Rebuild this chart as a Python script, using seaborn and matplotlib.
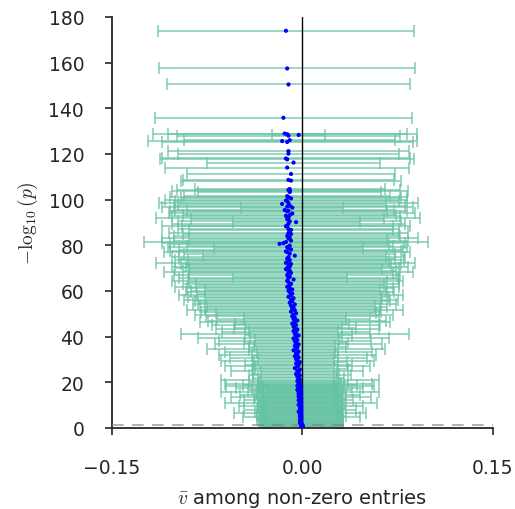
import matplotlib
matplotlib.use('Agg')
import matplotlib.pyplot as plt
import seaborn as sns
import numpy as np
import pandas as pd

# -log10(p), mean v among non-zero entries, and error half-width
# top tail
y_a = [173.9, 157.4, 150.4, 135.8, 128.9, 128.6, 128.3, 128.0,
       126.0, 125.6, 125.2, 121.2, 120.1, 118.0, 117.6, 116.2,
       114.0, 111.2, 108.6, 108.3, 104.6, 104.2, 103.8, 103.3,
       101.5, 101.0, 100.5]
x_a = [-0.013, -0.012, -0.011, -0.015, -0.014, -0.012, -0.003, -0.011,
       -0.010, -0.016, -0.012, -0.011, -0.011, -0.013, -0.012, -0.007,
       -0.012, -0.009, -0.011, -0.009, -0.010, -0.011, -0.010, -0.010,
       -0.012, -0.011, -0.009]
e_a = [0.101, 0.101, 0.096, 0.101, 0.104, 0.094, 0.021, 0.088,
       0.083, 0.106, 0.099, 0.095, 0.087, 0.098, 0.100, 0.068,
       0.096, 0.082, 0.083, 0.087, 0.075, 0.088, 0.093, 0.072,
       0.081, 0.093, 0.087]

# 100 .. 60
y_b = [99.6, 99.3, 98.4, 98.1, 97.3, 96.9, 96.5, 95.4,
       95.1, 94.8, 93.9, 93.2, 92.9, 92.1, 91.4, 90.5,
       90.1, 89.5, 88.6, 88.3, 87.1, 86.7, 85.4, 84.9,
       84.1, 83.3, 82.9, 82.0, 81.4, 80.9, 80.6, 79.8,
       79.2, 78.7, 78.1, 77.3, 77.0, 76.3, 75.4, 74.8,
       74.1, 73.5, 73.2, 72.3, 71.8, 71.5, 70.6, 70.1,
       69.5, 68.9, 68.2, 67.9, 66.9, 66.3, 65.7, 65.0,
       64.4, 63.8, 63.1, 62.5, 61.8, 61.2, 60.6, 60.1]
x_b = [-0.013, -0.012, -0.011, -0.016, -0.010, -0.012, -0.008, -0.014,
       -0.011, -0.012, -0.008, -0.010, -0.013, -0.011, -0.012, -0.010,
       -0.005, -0.011, -0.012, -0.013, -0.011, -0.009, -0.011, -0.009,
       -0.012, -0.010, -0.011, -0.009, -0.013, -0.015, -0.018, -0.010,
       -0.012, -0.011, -0.009, -0.013, -0.012, -0.010, -0.006, -0.011,
       -0.012, -0.010, -0.011, -0.013, -0.009, -0.011, -0.010, -0.012,
       -0.013, -0.010, -0.011, -0.009, -0.012, -0.010, -0.011, -0.007,
       -0.012, -0.011, -0.009, -0.010, -0.012, -0.010, -0.008, -0.011]
e_b = [0.095, 0.088, 0.102, 0.082, 0.091, 0.099, 0.040, 0.086,
       0.093, 0.079, 0.097, 0.084, 0.090, 0.104, 0.076, 0.088,
       0.050, 0.092, 0.083, 0.098, 0.087, 0.080, 0.094, 0.085,
       0.089, 0.101, 0.078, 0.092, 0.112, 0.096, 0.086, 0.081,
       0.094, 0.059, 0.088, 0.091, 0.097, 0.083, 0.072, 0.092,
       0.085, 0.090, 0.079, 0.102, 0.087, 0.081, 0.093, 0.088,
       0.076, 0.084, 0.098, 0.080, 0.089, 0.045, 0.086, 0.083,
       0.091, 0.078, 0.085, 0.074, 0.088, 0.081, 0.069, 0.077]

# 60 .. 20
y_c = [59.4, 58.8, 58.1, 57.4, 56.8, 56.1, 55.4, 54.8,
       54.1, 53.5, 52.8, 52.2, 51.5, 50.9, 50.2, 49.6,
       48.9, 48.3, 47.6, 47.0, 46.3, 45.7, 45.0, 44.4,
       43.7, 43.1, 42.4, 41.8, 41.1, 40.5, 39.8, 39.2,
       38.5, 37.9, 37.2, 36.6, 35.9, 35.3, 34.6, 34.0,
       33.4, 32.7, 32.1, 31.4, 30.8, 30.1, 29.5, 28.8,
       28.2, 27.5, 26.9, 26.2, 25.6, 24.9, 24.3, 23.6,
       23.0, 22.4, 21.7, 21.1, 20.6, 20.2, 19.8, 19.4]
x_c = [-0.010, -0.008, -0.009, -0.011, -0.007, -0.009, -0.008, -0.010,
       -0.006, -0.009, -0.007, -0.008, -0.006, -0.009, -0.005, -0.007,
       -0.008, -0.006, -0.007, -0.004, -0.006, -0.008, -0.005, -0.007,
       -0.006, -0.004, -0.007, -0.005, -0.006, -0.003, -0.005, -0.007,
       -0.004, -0.006, -0.005, -0.003, -0.006, -0.004, -0.005, -0.007,
       -0.003, -0.005, -0.004, -0.006, -0.003, -0.005, -0.004, -0.002,
       -0.005, -0.003, -0.004, -0.006, -0.002, -0.004, -0.003, -0.005,
       -0.002, -0.004, -0.003, -0.002, -0.004, -0.003, -0.002, -0.003]
e_c = [0.082, 0.075, 0.088, 0.079, 0.070, 0.084, 0.077, 0.072,
       0.080, 0.066, 0.074, 0.069, 0.085, 0.071, 0.063, 0.078,
       0.068, 0.040, 0.060, 0.070, 0.075, 0.045, 0.066, 0.038,
       0.048, 0.064, 0.035, 0.058, 0.090, 0.042, 0.036, 0.075,
       0.033, 0.060, 0.041, 0.066, 0.032, 0.038, 0.070, 0.035,
       0.058, 0.031, 0.062, 0.034, 0.054, 0.030, 0.060, 0.037,
       0.033, 0.042, 0.057, 0.031, 0.038, 0.052, 0.030, 0.034,
       0.040, 0.031, 0.036, 0.062, 0.029, 0.039, 0.032, 0.058]

# bottom, dense part
y_d = [19.0, 18.7, 18.5, 18.2, 18.0, 17.7, 17.5, 17.2,
       17.0, 16.7, 16.4, 16.2, 15.9, 15.6, 15.4, 15.1,
       14.8, 14.5, 14.3, 14.0, 13.7, 13.4, 13.2, 12.9,
       12.6, 12.3, 12.1, 11.8, 11.5, 11.2, 11.0, 10.7,
       10.4, 10.1, 9.9, 9.6, 9.3, 9.0, 8.8, 8.5,
       8.2, 7.9, 7.7, 7.4, 7.1, 6.8, 6.6, 6.3,
       6.0, 5.7, 5.5, 5.2, 4.9, 4.6, 4.4, 4.1,
       3.8, 3.5, 3.3, 3.0, 2.8, 2.5, 2.3, 2.0,
       1.8, 1.6, 1.4, 1.2, 1.0, 0.9, 0.8, 0.7,
       0.6, 0.5, 0.45, 0.4, 0.35, 0.3, 0.25, 0.2,
       0.18, 0.16, 0.14, 0.12, 0.10, 0.08, 0.06, 0.05,
       0.04, 0.03, 0.025, 0.02, 0.015, 0.01, 0.005, 0.002]
x_d = [-0.003, -0.002, -0.004, -0.002, -0.003, -0.001, -0.002, -0.003,
       -0.002, -0.004, -0.002, -0.001, -0.003, -0.002, -0.002, -0.001,
       -0.003, -0.002, -0.001, -0.002, -0.003, -0.001, -0.002, -0.001,
       -0.002, -0.001, -0.003, -0.002, -0.001, -0.002, -0.001, -0.002,
       -0.001, -0.003, -0.002, -0.001, -0.002, -0.001, -0.001, -0.002,
       -0.001, -0.002, -0.001, -0.001, -0.003, -0.001, -0.002, -0.001,
       -0.001, -0.002, -0.001, -0.001, -0.002, -0.001, -0.001, -0.001,
       -0.001, -0.002, -0.001, -0.001, -0.001, -0.001, -0.002, -0.001,
       -0.001, -0.001, 0.000, -0.001, 0.000, -0.001, 0.000, 0.000,
       0.000, 0.000, 0.000, 0.000, 0.000, 0.000, 0.000, 0.000,
       0.000, 0.000, 0.000, 0.000, 0.000, 0.000, 0.000, 0.000,
       0.000, 0.000, 0.000, 0.000, 0.000, 0.000, 0.000, 0.000]
e_d = [0.032, 0.045, 0.030, 0.058, 0.028, 0.034, 0.050, 0.031,
       0.029, 0.036, 0.041, 0.027, 0.033, 0.062, 0.030, 0.035,
       0.028, 0.047, 0.032, 0.029, 0.034, 0.055, 0.031, 0.030,
       0.036, 0.027, 0.043, 0.033, 0.029, 0.032, 0.060, 0.030,
       0.034, 0.028, 0.031, 0.049, 0.033, 0.029, 0.035, 0.030,
       0.032, 0.044, 0.028, 0.031, 0.034, 0.030, 0.052, 0.029,
       0.033, 0.031, 0.028, 0.035, 0.030, 0.046, 0.032, 0.029,
       0.031, 0.034, 0.028, 0.033, 0.030, 0.032, 0.029, 0.031,
       0.030, 0.033, 0.028, 0.031, 0.032, 0.029, 0.030, 0.031,
       0.028, 0.030, 0.032, 0.029, 0.031, 0.030, 0.028, 0.029,
       0.030, 0.031, 0.029, 0.028, 0.030, 0.027, 0.029, 0.028,
       0.026, 0.028, 0.027, 0.025, 0.026, 0.027, 0.025, 0.024]

df = pd.DataFrame({
    'nlp': y_a + y_b + y_c + y_d,
    'vbar': x_a + x_b + x_c + x_d,
    'err': e_a + e_b + e_c + e_d,
})

sns.set_theme(style="ticks")
plt.rcParams['mathtext.fontset'] = 'cm'
fig = plt.figure(figsize=(5.15, 5.1), dpi=100)
ax = fig.add_axes([0.2175, 0.159, 0.7395, 0.806])

ax.errorbar(df['vbar'], df['nlp'], xerr=df['err'], fmt='none',
            ecolor='#66c2a5', elinewidth=1.3, capsize=4, capthick=1.3,
            alpha=0.7, zorder=1)
ax.axvline(0, color='black', lw=1, zorder=3)
ax.axhline(-np.log10(0.05), color='gray', lw=1.2, ls=(0, (7, 5)),
           alpha=0.7, zorder=3)
sns.scatterplot(data=df, x='vbar', y='nlp', color='blue', s=9,
                edgecolor='none', zorder=4, ax=ax)

ax.set_xlim(-0.15, 0.15)
ax.set_ylim(0, 180)
ax.set_xticks([-0.15, 0.0, 0.15])
ax.set_yticks(range(0, 181, 20))
ax.tick_params(axis='both', labelsize=13.5, length=5, width=1.2,
               colors='#262626')
ax.tick_params(axis='x', pad=17)
ax.tick_params(axis='y', pad=15)
for s in ['left', 'bottom']:
    ax.spines[s].set_linewidth(1.3)
    ax.spines[s].set_color('#262626')
sns.despine(ax=ax)
ax.set_xlabel(r'$\bar{v}$ among non-zero entries', fontsize=14,
              color='#262626', labelpad=6)
ax.set_ylabel(r'$-\log_{10}(p)$', fontsize=14, color='#262626',
              labelpad=6)

plt.savefig('out.png', dpi=100)
